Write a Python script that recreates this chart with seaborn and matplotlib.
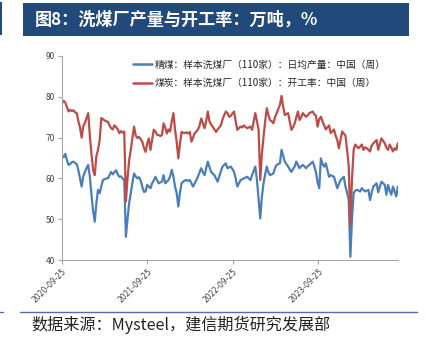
import numpy as np
import pandas as pd
import matplotlib
matplotlib.use("Agg")
import matplotlib.pyplot as plt
from matplotlib.patches import Rectangle
from matplotlib.lines import Line2D
import seaborn as sns

# ---------------- data ----------------
start_date = "2020-09-25"
title_text = "图8：洗煤厂产量与开工率：万吨，%"
source_text = "数据来源：Mysteel，建信期货研究发展部"
label_clean = "精煤：样本洗煤厂（110家）：日均产量：中国（周）"
label_coal = "煤炭：样本洗煤厂（110家）：开工率：中国（周）"
xtick_labels = ["2020-09-25", "2021-09-25", "2022-09-25", "2023-09-25"]
yticks = [40, 50, 60, 70, 80, 90]

clean_output = [
    65.7, 65.2, 66.0, 64.5, 63.3, 63.5, 64.0, 64.1, 63.8, 63.5,
    62.0, 60.0, 58.0, 60.5, 61.6, 62.5, 63.3, 60.5, 56.0, 52.0,
    49.4, 54.0, 57.2, 56.4, 58.0, 59.6, 59.8, 60.0, 60.0, 60.8,
    61.6, 61.0, 61.5, 62.0, 61.0, 60.4, 60.5, 60.0, 59.6, 45.7,
    50.0, 54.0, 56.4, 59.0, 61.2, 60.5, 60.0, 60.3, 59.5, 58.0,
    56.7, 56.8, 58.4, 58.0, 57.6, 58.8, 59.5, 60.4, 59.6, 58.8,
    59.0, 59.2, 60.8, 58.8, 59.2, 59.6, 60.5, 62.1, 60.5, 58.0,
    56.4, 53.1, 56.5, 58.8, 59.2, 59.5, 59.6, 59.4, 59.6, 58.8,
    58.0, 58.8, 59.6, 60.5, 61.5, 62.5, 61.5, 60.8, 62.5, 64.1,
    62.8, 61.6, 61.2, 60.8, 60.0, 59.2, 60.5, 61.8, 62.9, 63.3,
    63.7, 62.5, 62.7, 62.9, 62.3, 61.6, 60.0, 58.0, 58.8, 59.6,
    59.8, 60.0, 60.2, 60.4, 60.0, 59.6, 60.8, 61.8, 62.9, 59.6,
    55.0, 50.2, 55.5, 58.8, 61.0, 62.9, 61.5, 60.8, 61.0, 61.2,
    62.5, 63.3, 63.5, 63.7, 67.0, 65.5, 64.1, 63.5, 62.9, 62.2,
    61.6, 62.3, 62.9, 64.1, 63.3, 62.5, 63.0, 63.3, 62.9, 62.5,
    63.0, 63.3, 63.7, 64.1, 63.0, 61.5, 59.0, 57.6, 64.9, 63.5,
    62.9, 63.7, 62.0, 60.4, 60.8, 60.6, 60.4, 59.0, 57.6, 58.6,
    59.6, 60.0, 60.4, 58.0, 56.5, 54.7, 40.8, 50.0, 56.4, 57.0,
    57.2, 57.0, 56.8, 57.6, 57.2, 56.8, 57.0, 57.2, 54.7, 56.5,
    58.0, 58.4, 58.8, 56.6, 58.0, 59.2, 58.8, 58.4, 56.0, 58.4,
    57.0, 56.0, 58.0, 56.8, 55.6, 58.0,
]

coal_rate = [
    78.4, 79.0, 78.6, 77.5, 76.4, 76.8, 76.5, 76.7, 76.2, 76.0,
    74.0, 72.5, 70.0, 72.8, 73.6, 74.8, 76.0, 70.5, 66.0, 62.0,
    60.8, 65.5, 67.0, 69.4, 74.8, 74.5, 74.2, 74.0, 73.9, 73.0,
    72.3, 72.0, 73.0, 72.6, 72.0, 71.1, 71.6, 71.2, 71.5, 54.3,
    60.0, 64.5, 67.0, 70.0, 72.7, 70.5, 69.9, 70.2, 69.6, 69.0,
    67.5, 66.5, 68.5, 69.8, 67.0, 69.5, 71.9, 71.5, 70.7, 70.6,
    70.4, 70.6, 73.5, 72.5, 71.0, 72.0, 71.5, 74.0, 76.0, 72.0,
    69.0, 64.9, 68.5, 71.4, 71.2, 71.1, 71.3, 71.0, 71.4, 69.0,
    70.0, 71.1, 71.5, 72.0, 73.0, 74.7, 73.5, 72.3, 74.0, 76.4,
    74.0, 73.2, 72.7, 72.0, 71.4, 72.0, 72.5, 73.0, 74.5, 75.5,
    76.4, 76.0, 75.1, 75.3, 75.9, 76.4, 74.0, 71.9, 72.3, 72.7,
    72.5, 73.0, 72.6, 72.3, 72.5, 72.7, 71.9, 74.0, 76.0, 74.0,
    71.9, 59.6, 66.0, 70.2, 74.0, 77.2, 75.5, 74.3, 74.0, 73.5,
    75.0, 76.0, 77.0, 78.0, 80.2, 77.5, 75.5, 75.8, 76.0, 74.0,
    71.9, 72.5, 73.5, 75.0, 76.4, 74.3, 75.0, 76.0, 75.5, 75.1,
    75.5, 76.0, 76.2, 76.4, 75.7, 75.4, 72.7, 74.5, 75.1, 74.0,
    73.0, 72.0, 72.5, 73.0, 71.1, 71.5, 72.0, 70.5, 69.4, 67.4,
    69.5, 71.5, 71.0, 70.5, 67.0, 63.0, 48.6, 60.0, 67.0, 68.3,
    67.8, 67.4, 67.8, 68.3, 67.0, 67.6, 67.4, 67.0, 66.6, 68.0,
    68.6, 69.0, 69.4, 67.0, 68.5, 69.8, 69.2, 68.6, 67.5, 67.0,
    68.3, 67.5, 66.6, 67.4, 67.0, 68.6,
]

dates = pd.date_range(start_date, periods=len(coal_rate), freq="7D")
df = pd.concat([
    pd.DataFrame({"date": dates, "value": clean_output, "series": label_clean}),
    pd.DataFrame({"date": dates, "value": coal_rate, "series": label_coal}),
])

# ---------------- style ----------------
sns.set_style("white")
plt.rcParams["font.family"] = ["Noto Sans CJK SC", "DejaVu Sans"]
plt.rcParams["axes.unicode_minus"] = False

fig = plt.figure(figsize=(4.26, 3.41), dpi=100)
ax = fig.add_axes([0.1455, 0.2375, 0.934 - 0.1455, 0.8358 - 0.2375])

palette = {label_clean: "#4a7ebb", label_coal: "#be4b48"}
sns.lineplot(data=df, x="date", y="value", hue="series", palette=palette,
             linewidth=1.6, ax=ax, legend=False)

ax.set_xlim(dates[0], dates[-1])
ax.set_ylim(40, 90)
ax.set_yticks(yticks)
ax.set_yticklabels([str(v) for v in yticks], fontsize=6, color="#404040")
tick_dates = pd.to_datetime(xtick_labels)
ax.set_xticks(tick_dates)
ax.set_xticklabels(xtick_labels, rotation=45, ha="right", va="top",
                   rotation_mode="anchor", fontsize=5.5, color="#404040",
                   family=["DejaVu Sans"])
ax.set_xlabel("")
ax.set_ylabel("")
for s in ["top", "right"]:
    ax.spines[s].set_visible(False)
for s in ["left", "bottom"]:
    ax.spines[s].set_color("#a6a6a6")
    ax.spines[s].set_linewidth(0.8)
ax.tick_params(axis="both", which="both", length=3, width=0.8, color="#a6a6a6",
               direction="out", pad=2)
ax.tick_params(left=True, bottom=True)
ax.grid(False)

handles = [Line2D([0], [0], color=palette[label_clean], lw=1.8),
           Line2D([0], [0], color=palette[label_coal], lw=1.8)]
ax.legend(handles, [label_clean, label_coal], loc="upper left",
          bbox_to_anchor=(0.19, 1.015), frameon=False, fontsize=7,
          handlelength=2.0, handletextpad=0.3, labelspacing=0.85,
          borderpad=0.2)

# title banner
fig.patches.append(Rectangle((23 / 426, (341 - 36) / 341), (409 - 23) / 426, 33 / 341,
                             transform=fig.transFigure, facecolor="#214a7b",
                             edgecolor="none", zorder=0))
fig.patches.append(Rectangle((0, (341 - 35) / 341), 2 / 426, 33 / 341,
                             transform=fig.transFigure, facecolor="#214a7b",
                             edgecolor="none", zorder=0))
fig.text(35 / 426, (341 - 19.5) / 341, title_text, color="white", fontsize=12.3,
         fontweight="bold", va="center", ha="left")

# bottom rule and source
fig.add_artist(Line2D([20 / 426, 417 / 426], [(341 - 312) / 341] * 2,
                      transform=fig.transFigure, color="#4f6fa8", lw=1.0))
fig.add_artist(Line2D([0, 3 / 426], [(341 - 312) / 341] * 2,
                      transform=fig.transFigure, color="#4f6fa8", lw=1.0))
fig.text(31 / 426, (341 - 325) / 341, source_text, color="#222222", fontsize=11.6,
         style="italic", va="center", ha="left")

fig.savefig("out.png", dpi=100)
